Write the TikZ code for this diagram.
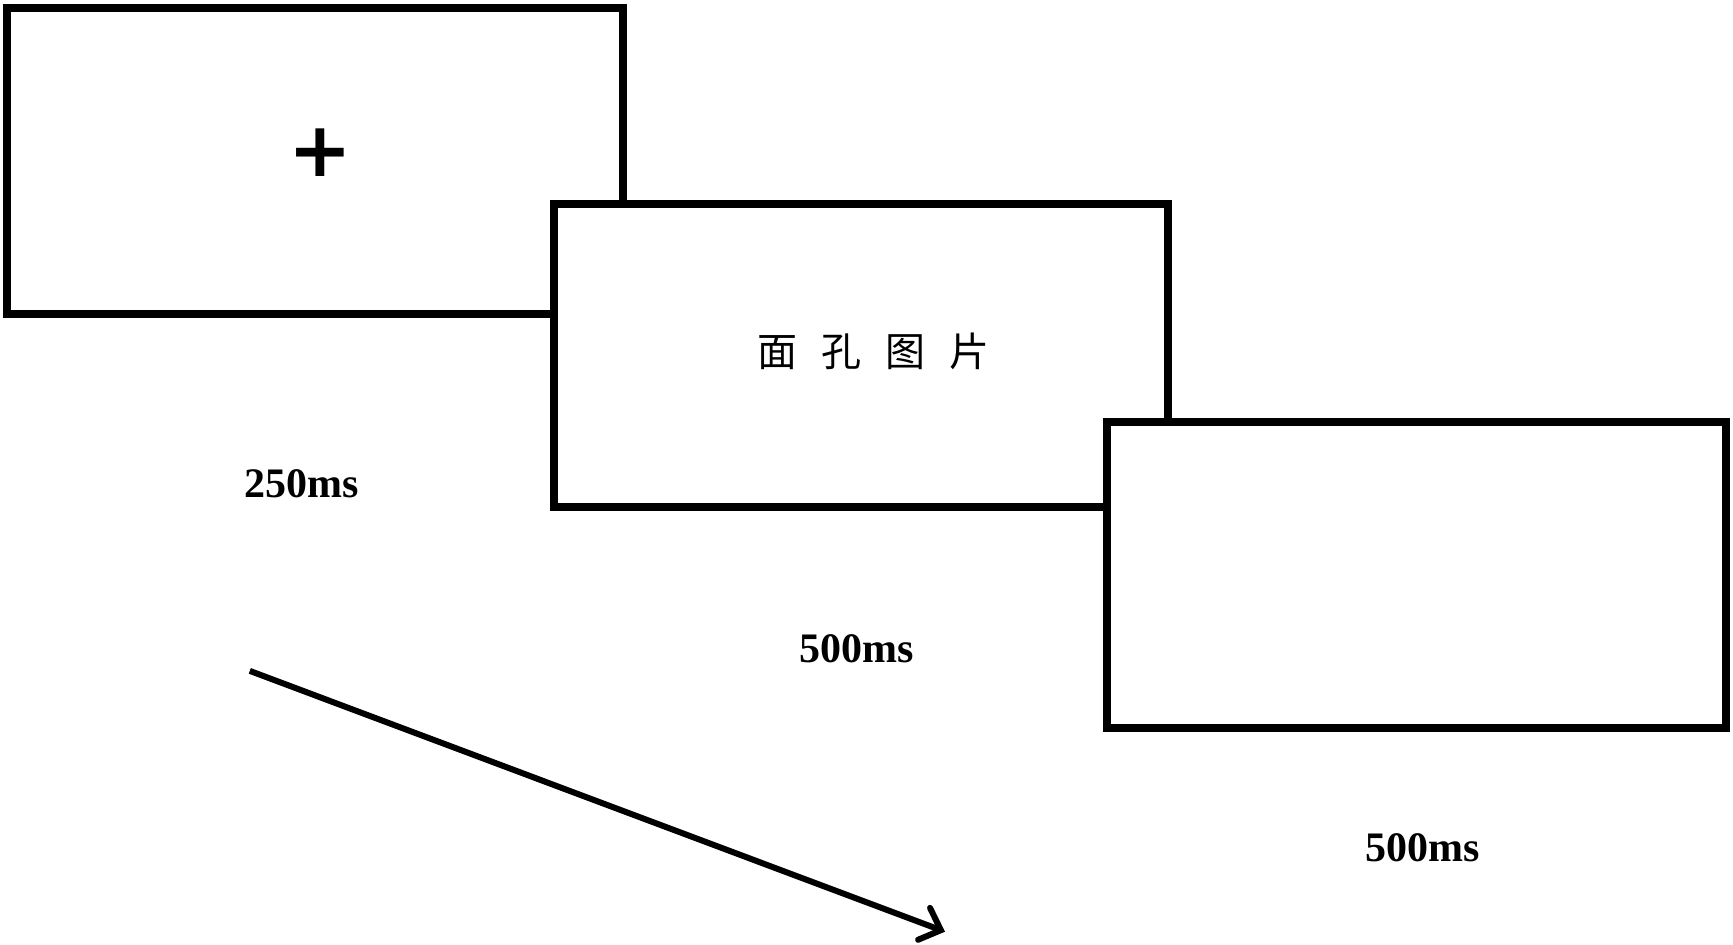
\documentclass[tikz,border=0pt]{standalone}
\usepackage{fontspec}
\setmainfont{Liberation Serif}
\newfontfamily\cjk{Noto Sans CJK SC}
\newfontfamily\symfont{DejaVu Sans}
\usetikzlibrary{arrows.meta}
\tikzset{
  screen/.style={draw=black, fill=white, line width=4pt, rectangle, inner sep=0pt},
  timelabel/.style={font=\fontsize{21}{25}\selectfont\bfseries, inner sep=0pt},
  timearrow/.style={line width=3pt, -{Straight Barb[length=9pt,width=17pt,line cap=round]}}
}
\begin{document}
\begin{tikzpicture}[x=0.5pt,y=-0.5pt]
\useasboundingbox (0,0) rectangle (1733,945);
\node[screen, minimum width=308.2pt, minimum height=153.2pt] (b1) at (314.8,160.9) {};
\node[screen, minimum width=307.3pt, minimum height=151.4pt] (b2) at (861,355.9) {};
\node[screen, minimum width=309.5pt, minimum height=153pt] (b3) at (1416.9,575.3) {};
\node[inner sep=0pt, font=\symfont\bfseries\fontsize{38}{40}\selectfont] (plus) at (320.5,152.5) {+};
\node[inner sep=0pt, font=\cjk\fontsize{20}{22}\selectfont] (face) at (873,351.5) {面\hspace{12pt}孔\hspace{12pt}图\hspace{12pt}片};
\node[timelabel] (t1) at (301.7,484) {250ms};
\node[timelabel] (t2) at (856.5,648.8) {500ms};
\node[timelabel] (t3) at (1422.4,847.7) {500ms};
\coordinate (a0) at (249.8,670.9);
\coordinate (a1) at (945,931.7);
\draw[timearrow] (a0) -- (a1);
\end{tikzpicture}
\end{document}
